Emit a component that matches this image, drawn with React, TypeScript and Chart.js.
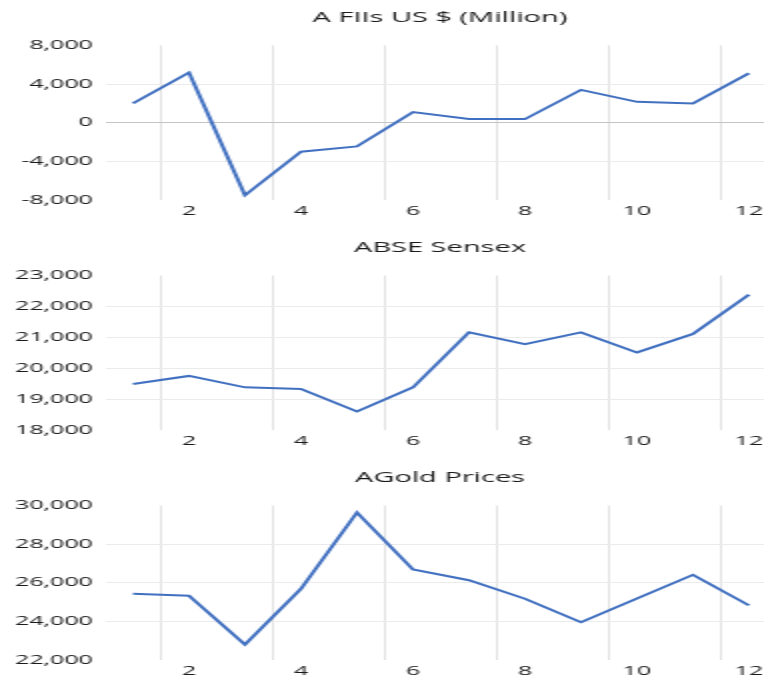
import React, { useEffect, useRef } from "react";
import { Chart, registerables } from "chart.js";

Chart.register(...registerables);

const xLabels = ["1", "2", "3", "4", "5", "6", "7", "8", "9", "10", "11", "12"];

const fiiTitle = "A FIIs US $ (Million)";
const fiiValues = [2000, 5200, -7500, -3000, -2450, 1100, 380, 380, 3400, 2170, 2000, 5130];
const fiiRange = [-8000, 8000, 4000];

const sensexTitle = "ABSE Sensex";
const sensexValues = [19490, 19750, 19380, 19330, 18600, 19380, 21160, 20780, 21160, 20510, 21110, 22380];
const sensexRange = [18000, 23000, 1000];

const goldTitle = "AGold Prices";
const goldValues = [25430, 25330, 22800, 25690, 29640, 26690, 26130, 25170, 23960, 25180, 26410, 24830];
const goldRange = [22000, 30000, 2000];

const FONT = "'Open Sans', 'Noto Sans', sans-serif";
const TEXT = "#1a1a1a";
const STRETCH = 2;
const CW = 440;
const CH = 230;

function Panel({ title, values, range }: { title: string; values: number[]; range: number[] }) {
  const ref = useRef<HTMLCanvasElement | null>(null);
  useEffect(() => {
    if (!ref.current) return;
    const [min, max, step] = range;
    const chart = new Chart(ref.current, {
      type: "line",
      data: {
        labels: xLabels,
        datasets: [
          {
            data: values,
            borderColor: "#4170C0",
            borderWidth: 2,
            pointRadius: 0,
            tension: 0,
            fill: false,
          },
        ],
      },
      options: {
        animation: false,
        responsive: false,
        devicePixelRatio: 1,
        layout: { padding: { left: 0, right: 0, top: 0, bottom: 0 } },
        plugins: {
          legend: { display: false },
          tooltip: { enabled: false },
          title: {
            display: true,
            text: title,
            color: TEXT,
            font: { family: FONT, size: 14.5, weight: "normal" },
            padding: { top: 9.5, bottom: 18.6 },
          },
        },
        scales: {
          x: {
            type: "category",
            offset: true,
            grid: {
              offset: true,
              drawTicks: false,
              lineWidth: 1,
              color: (ctx: any) => (ctx.index !== undefined && ctx.index % 2 === 1 ? "#e2e2e2" : "rgba(0,0,0,0)"),
            },
            border: { display: false },
            ticks: {
              autoSkip: false,
              maxRotation: 0,
              padding: 4,
              color: TEXT,
              font: { family: FONT, size: 12.5 },
              callback: (_v: any, i: number) => (i % 2 === 1 ? xLabels[i] : ""),
            },
            afterFit: (s: any) => {
              s.height = 30;
            },
          },
          y: {
            min,
            max,
            ticks: {
              stepSize: step,
              padding: 6,
              color: TEXT,
              font: { family: FONT, size: 12.5 },
              callback: (v: any) => Number(v).toLocaleString("en-US"),
            },
            grid: {
              drawTicks: false,
              lineWidth: 1,
              color: (ctx: any) => {
                const v = ctx.tick ? ctx.tick.value : null;
                if (v === min || v === max) return "rgba(0,0,0,0)";
                if (v === 0) return "#c4c4c4";
                return "#ebebeb";
              },
            },
            border: { display: false },
            afterFit: (s: any) => {
              s.width = 52.5;
            },
          },
          y2: {
            position: "right",
            display: true,
            grid: { display: false, drawTicks: false },
            ticks: { display: false },
            border: { display: false },
            afterFit: (s: any) => {
              s.width = 51.5;
            },
          },
        },
      },
    } as any);
    return () => chart.destroy();
  }, [title, values, range]);

  return (
    <div style={{ width: CW, height: CH, position: "relative" }}>
      <canvas
        ref={ref}
        width={CW}
        height={CH}
        style={{
          display: "block",
          transform: `scaleX(${STRETCH})`,
          transformOrigin: "0 0",
        }}
      />
    </div>
  );
}

export default function App() {
  return (
    <div
      style={{
        position: "absolute",
        left: 0,
        top: 0,
        width: 764,
        height: 680,
        overflow: "hidden",
        background: "#ffffff",
      }}
    >
      <Panel title={fiiTitle} values={fiiValues} range={fiiRange} />
      <Panel title={sensexTitle} values={sensexValues} range={sensexRange} />
      <Panel title={goldTitle} values={goldValues} range={goldRange} />
    </div>
  );
}
